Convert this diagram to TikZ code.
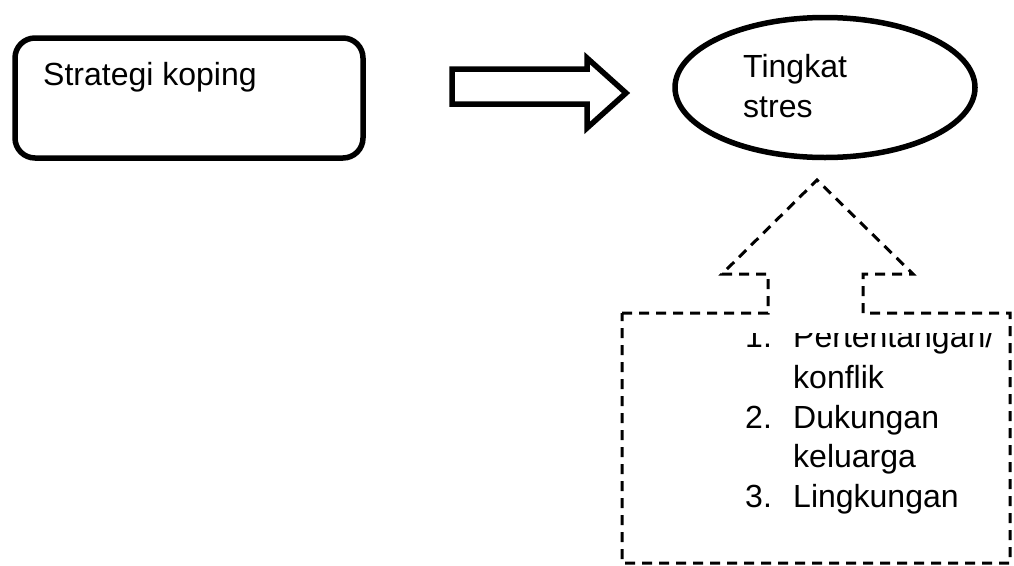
\documentclass[tikz,border=0pt]{standalone}
\usepackage{fontspec}
\setmainfont[Ligatures=NoCommon]{Liberation Sans}
\usetikzlibrary{shapes.geometric}
\begin{document}
\begin{tikzpicture}[x=1pt,y=-1pt,
  txt/.style={inner sep=0pt, anchor=base west, font=\fontsize{32}{40}\selectfont},
  thickline/.style={line width=5.5pt},
  dashline/.style={line width=3pt, dash pattern=on 10pt off 7pt}]
\useasboundingbox (0,0) rectangle (1014,565);
% left box
\node[draw, thickline, rounded corners=20pt, minimum width=348pt, minimum height=120pt, inner sep=0pt] (coping) at (189,98) {};
\node[txt] (copingtext) at (43,85) {Strategi koping};
% ellipse
\node[draw, ellipse, thickline, minimum width=300pt, minimum height=140pt, inner sep=0pt] (stres) at (825,87.5) {};
\node[txt] (stres1) at (743,77) {Tingkat};
\node[txt] (stres2) at (743,117) {stres};
% block arrow
\draw[thickline, line join=miter] (452,69) -- (587,69) -- (587,58) -- (626,93) -- (587,128) -- (587,104) -- (452,104) -- cycle;
% dashed callout box with up arrow
\draw[dashline] (622,313) -- (768,313) -- (768,274) -- (722,274) -- (817,180) -- (913,274) -- (863,274) -- (863,313) -- (1010,313) -- (1010,563) -- (622,563) -- cycle;
\begin{scope}
\clip (622,333) rectangle (1010,565);
\node[txt] (n1) at (745,347) {1.};
\node[txt] (t1) at (793,347) {Pertentangan/};
\end{scope}
\node[txt] (t1b) at (793,388) {konflik};
\node[txt] (n2) at (745,428) {2.};
\node[txt] (t2) at (793,428) {Dukungan};
\node[txt] (t2b) at (793,467) {keluarga};
\node[txt] (n3) at (745,507) {3.};
\node[txt] (t3) at (793,507) {Lingkungan};
\end{tikzpicture}
\end{document}
